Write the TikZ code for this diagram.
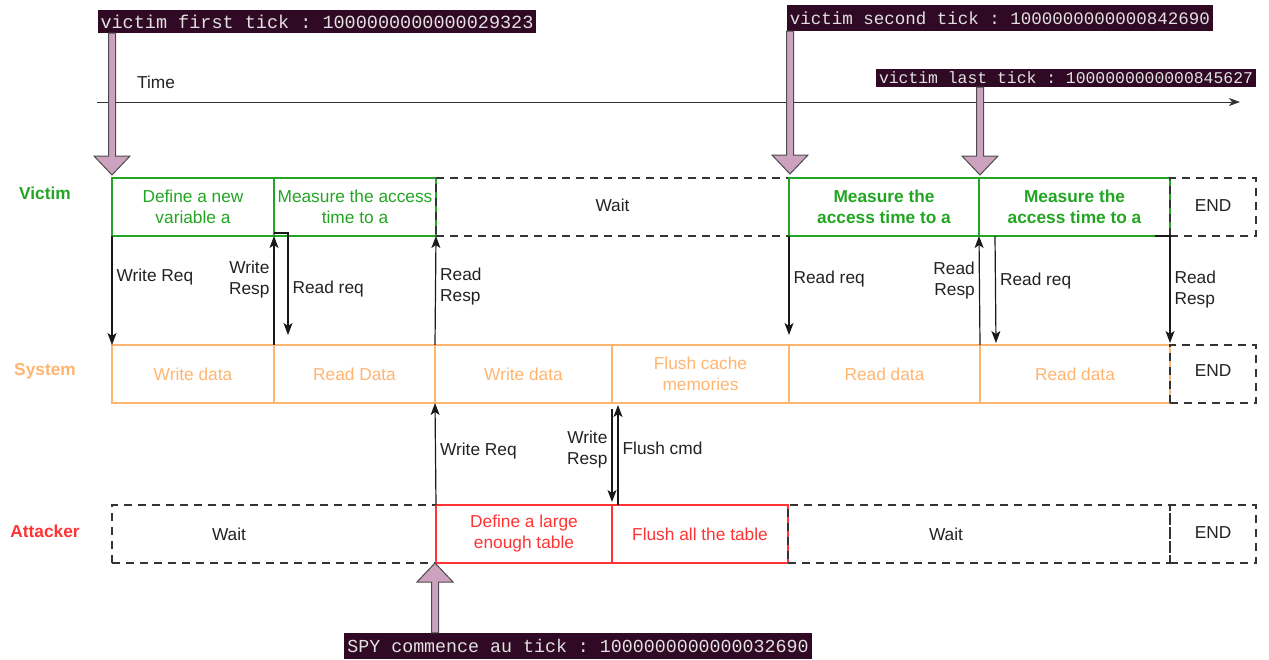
\documentclass[tikz,border=0pt]{standalone}
\usepackage{fontspec}
\setmainfont{Liberation Sans}
\setmonofont{Liberation Mono}
\usetikzlibrary{positioning,arrows.meta,calc}

\definecolor{vicgreen}{RGB}{34,165,34}
\definecolor{sysorange}{RGB}{255,181,112}
\definecolor{atkred}{RGB}{255,51,51}
\definecolor{tickbg}{RGB}{48,10,36}
\definecolor{tickfg}{RGB}{225,225,225}
\definecolor{tickpink}{RGB}{205,162,190}
\definecolor{txtgray}{RGB}{34,34,34}

\newcommand{\lblfont}{\fontsize{17.3}{21}\selectfont}

\tikzset{
  base/.style={font=\lblfont, text=txtgray},
  cell/.style={base, line width=2.4pt, outer sep=0pt, minimum height=58pt, inner sep=0pt, align=center},
  vicbox/.style={cell, draw=vicgreen, text=vicgreen},
  sysbox/.style={cell, draw=sysorange, text=sysorange},
  atkbox/.style={cell, draw=atkred, text=atkred},
  waitbox/.style={cell, draw=black!80, dash pattern=on 8pt off 6pt},
  rowlbl/.style={font=\bfseries\lblfont},
  msg/.style={base, inner sep=4pt},
  req/.style={draw=black!90, line width=1.2pt, -{Stealth[length=12pt,width=9pt,inset=3pt]}},
  timeline/.style={draw=black!80, line width=1pt, -{Stealth[length=11pt,width=8pt,inset=3pt]}},
  tick/.style={fill=tickbg, text=tickfg, inner xsep=3pt, inner ysep=0pt},
  tickarr/.style={fill=tickpink, draw=black!70, line width=1pt}
}

% fat arrow from a tick label to a point
\newcommand{\tickarrow}[2]{%
  \draw[tickarr] let \p1=(#1), \p2=(#2), \n1={sign(\y1-\y2)} in
    (\x2-3.5pt,\y1) -- (\x2-3.5pt,{\y2+\n1*19pt}) -- (\x2-18pt,{\y2+\n1*19pt})
    -- (\x2,\y2) -- (\x2+18pt,{\y2+\n1*19pt}) -- (\x2+3.5pt,{\y2+\n1*19pt})
    -- (\x2+3.5pt,\y1) -- cycle;}

\begin{document}
\begin{tikzpicture}[x=1pt,y=-1pt]
\useasboundingbox (0,0) rectangle (1269,659);

% Ticks
  \node[tick, font=\ttfamily\fontsize{18.5}{20}\selectfont, minimum height=23pt] (first)  at (317,21.5) {victim first tick : 1000000000000029323};
  \node[tick, font=\ttfamily\fontsize{17.5}{20}\selectfont, minimum height=26pt] (second) at (1000,18)  {victim second tick : 1000000000000842690};
  \node[tick, font=\ttfamily\fontsize{16.4}{18}\selectfont, minimum height=18pt] (last)   at (1066,78)  {victim last tick : 1000000000000845627};
  \node[tick, font=\ttfamily\fontsize{18.3}{20}\selectfont, minimum height=26pt] (spy)    at (578,646)  {SPY commence au tick : 1000000000000032690};

% Time
  \coordinate (t0) at (97,102);
  \coordinate (t1) at (1240,102);
  \draw[timeline] (t0) -- (t1);
  \node[base] (time) at (156,82) {Time};

% Rows
  \node[rowlbl, text=vicgreen]  (victim)   at (45,193) {Victim};
  \node[rowlbl, text=sysorange] (system)   at (45,371) {System};
  \node[rowlbl, text=atkred]    (attacker) at (45,531) {Attacker};

% Victim
  \node[vicbox, minimum width=162pt, anchor=north west] (v1) at (112,178) {Define a new\\variable a};
  \node[vicbox, minimum width=162pt, right=0pt of v1]   (v2) {Measure the access\\time to a};
  \node[waitbox, minimum width=353pt, right=0pt of v2]  (v3) {\raisebox{3pt}{Wait}};
  \node[vicbox, minimum width=190pt, right=0pt of v3, font=\bfseries\lblfont] (v4) {Measure the\\access time to a};
  \node[vicbox, minimum width=191pt, right=0pt of v4, font=\bfseries\lblfont] (v5) {Measure the\\access time to a};
  \node[waitbox, minimum width=86pt, right=0pt of v5]   (v6) {\raisebox{3pt}{END}};

% System
  \node[sysbox, minimum width=162pt, anchor=north west] (s1) at (112,345) {Write data};
  \node[sysbox, minimum width=161pt, right=0pt of s1]   (s2) {Read Data};
  \node[sysbox, minimum width=177pt, right=0pt of s2]   (s3) {Write data};
  \node[sysbox, minimum width=177pt, right=0pt of s3]   (s4) {Flush cache\\memories};
  \node[sysbox, minimum width=191pt, right=0pt of s4]   (s5) {Read data};
  \node[sysbox, minimum width=190pt, right=0pt of s5]   (s6) {Read data};
  \node[waitbox, minimum width=86pt, right=0pt of s6]   (s7) {\raisebox{6pt}{END}};

% Attacker
  \node[waitbox, minimum width=324pt, anchor=north west,
        label={[base, xshift=-45pt]center:Wait}] (a1) at (112,505) {};
  \node[atkbox, minimum width=176pt, right=0pt of a1] (a2) {Define a large\\enough table};
  \node[atkbox, minimum width=176pt, right=0pt of a2] (a3) {Flush all the table};
  \node[waitbox, minimum width=382pt, right=0pt of a3,
        label={[base, xshift=-33pt]center:Wait}] (a4) {};
  \node[waitbox, minimum width=86pt, right=0pt of a4] (a5) {\raisebox{2pt}{END}};

% Victim <-> System
  \draw[req] (v1.south west) -- node[msg, anchor=west, pos=0.38] {Write Req} (s1.north west);
  \draw[req] (s1.north east) -- node[msg, anchor=east, pos=0.6, align=right] {Write\\Resp} (v1.south east);
  \draw[req] ([yshift=3pt]v2.south west) -| node[msg, anchor=west, pos=0.775] {Read req} ([xshift=14pt,yshift=10pt]s2.north west);
  \draw[req] (s2.north east) -- node[msg, anchor=west, pos=0.54, align=left] {Read\\Resp} (v2.south east);
  \draw[req] (v4.south west) -- node[msg, anchor=west, pos=0.43] {Read req} ([yshift=10pt]s5.north west);
  \draw[req] (s5.north east) -- node[msg, anchor=east, pos=0.59, align=right] {Read\\Resp} (v4.south east);
  \draw[req] ([xshift=16pt]v5.south west) -- node[msg, anchor=west, pos=0.42] {Read req} ([xshift=16pt,yshift=2pt]s6.north west);
  \draw[req] ([xshift=-15pt]v5.south east) -| node[msg, anchor=west, pos=0.75, align=left] {Read\\Resp} ([yshift=2pt]s6.north east);

% System <-> Attacker
  \draw[req] (a2.north west) -- node[msg, anchor=west, pos=0.53] {Write Req} (s3.south west);
  \draw[req] ([yshift=-6pt]s3.south east) -- node[msg, anchor=east, pos=0.44, align=right] {Write\\Resp} ([yshift=3pt]a2.north east);
  \draw[req] ([xshift=6pt]a3.north west) -- node[msg, anchor=west, pos=0.57] {Flush cmd} ([xshift=6pt,yshift=-2pt]s4.south west);

% Tick arrows
  \tickarrow{first.south}{[yshift=3pt]v1.north west}
  \tickarrow{second.south}{[xshift=1pt,yshift=4pt]v4.north west}
  \tickarrow{last.south}{[xshift=1pt,yshift=3pt]v5.north west}
  \tickarrow{spy.north}{[xshift=-1pt]a2.south west}

\end{tikzpicture}
\end{document}
